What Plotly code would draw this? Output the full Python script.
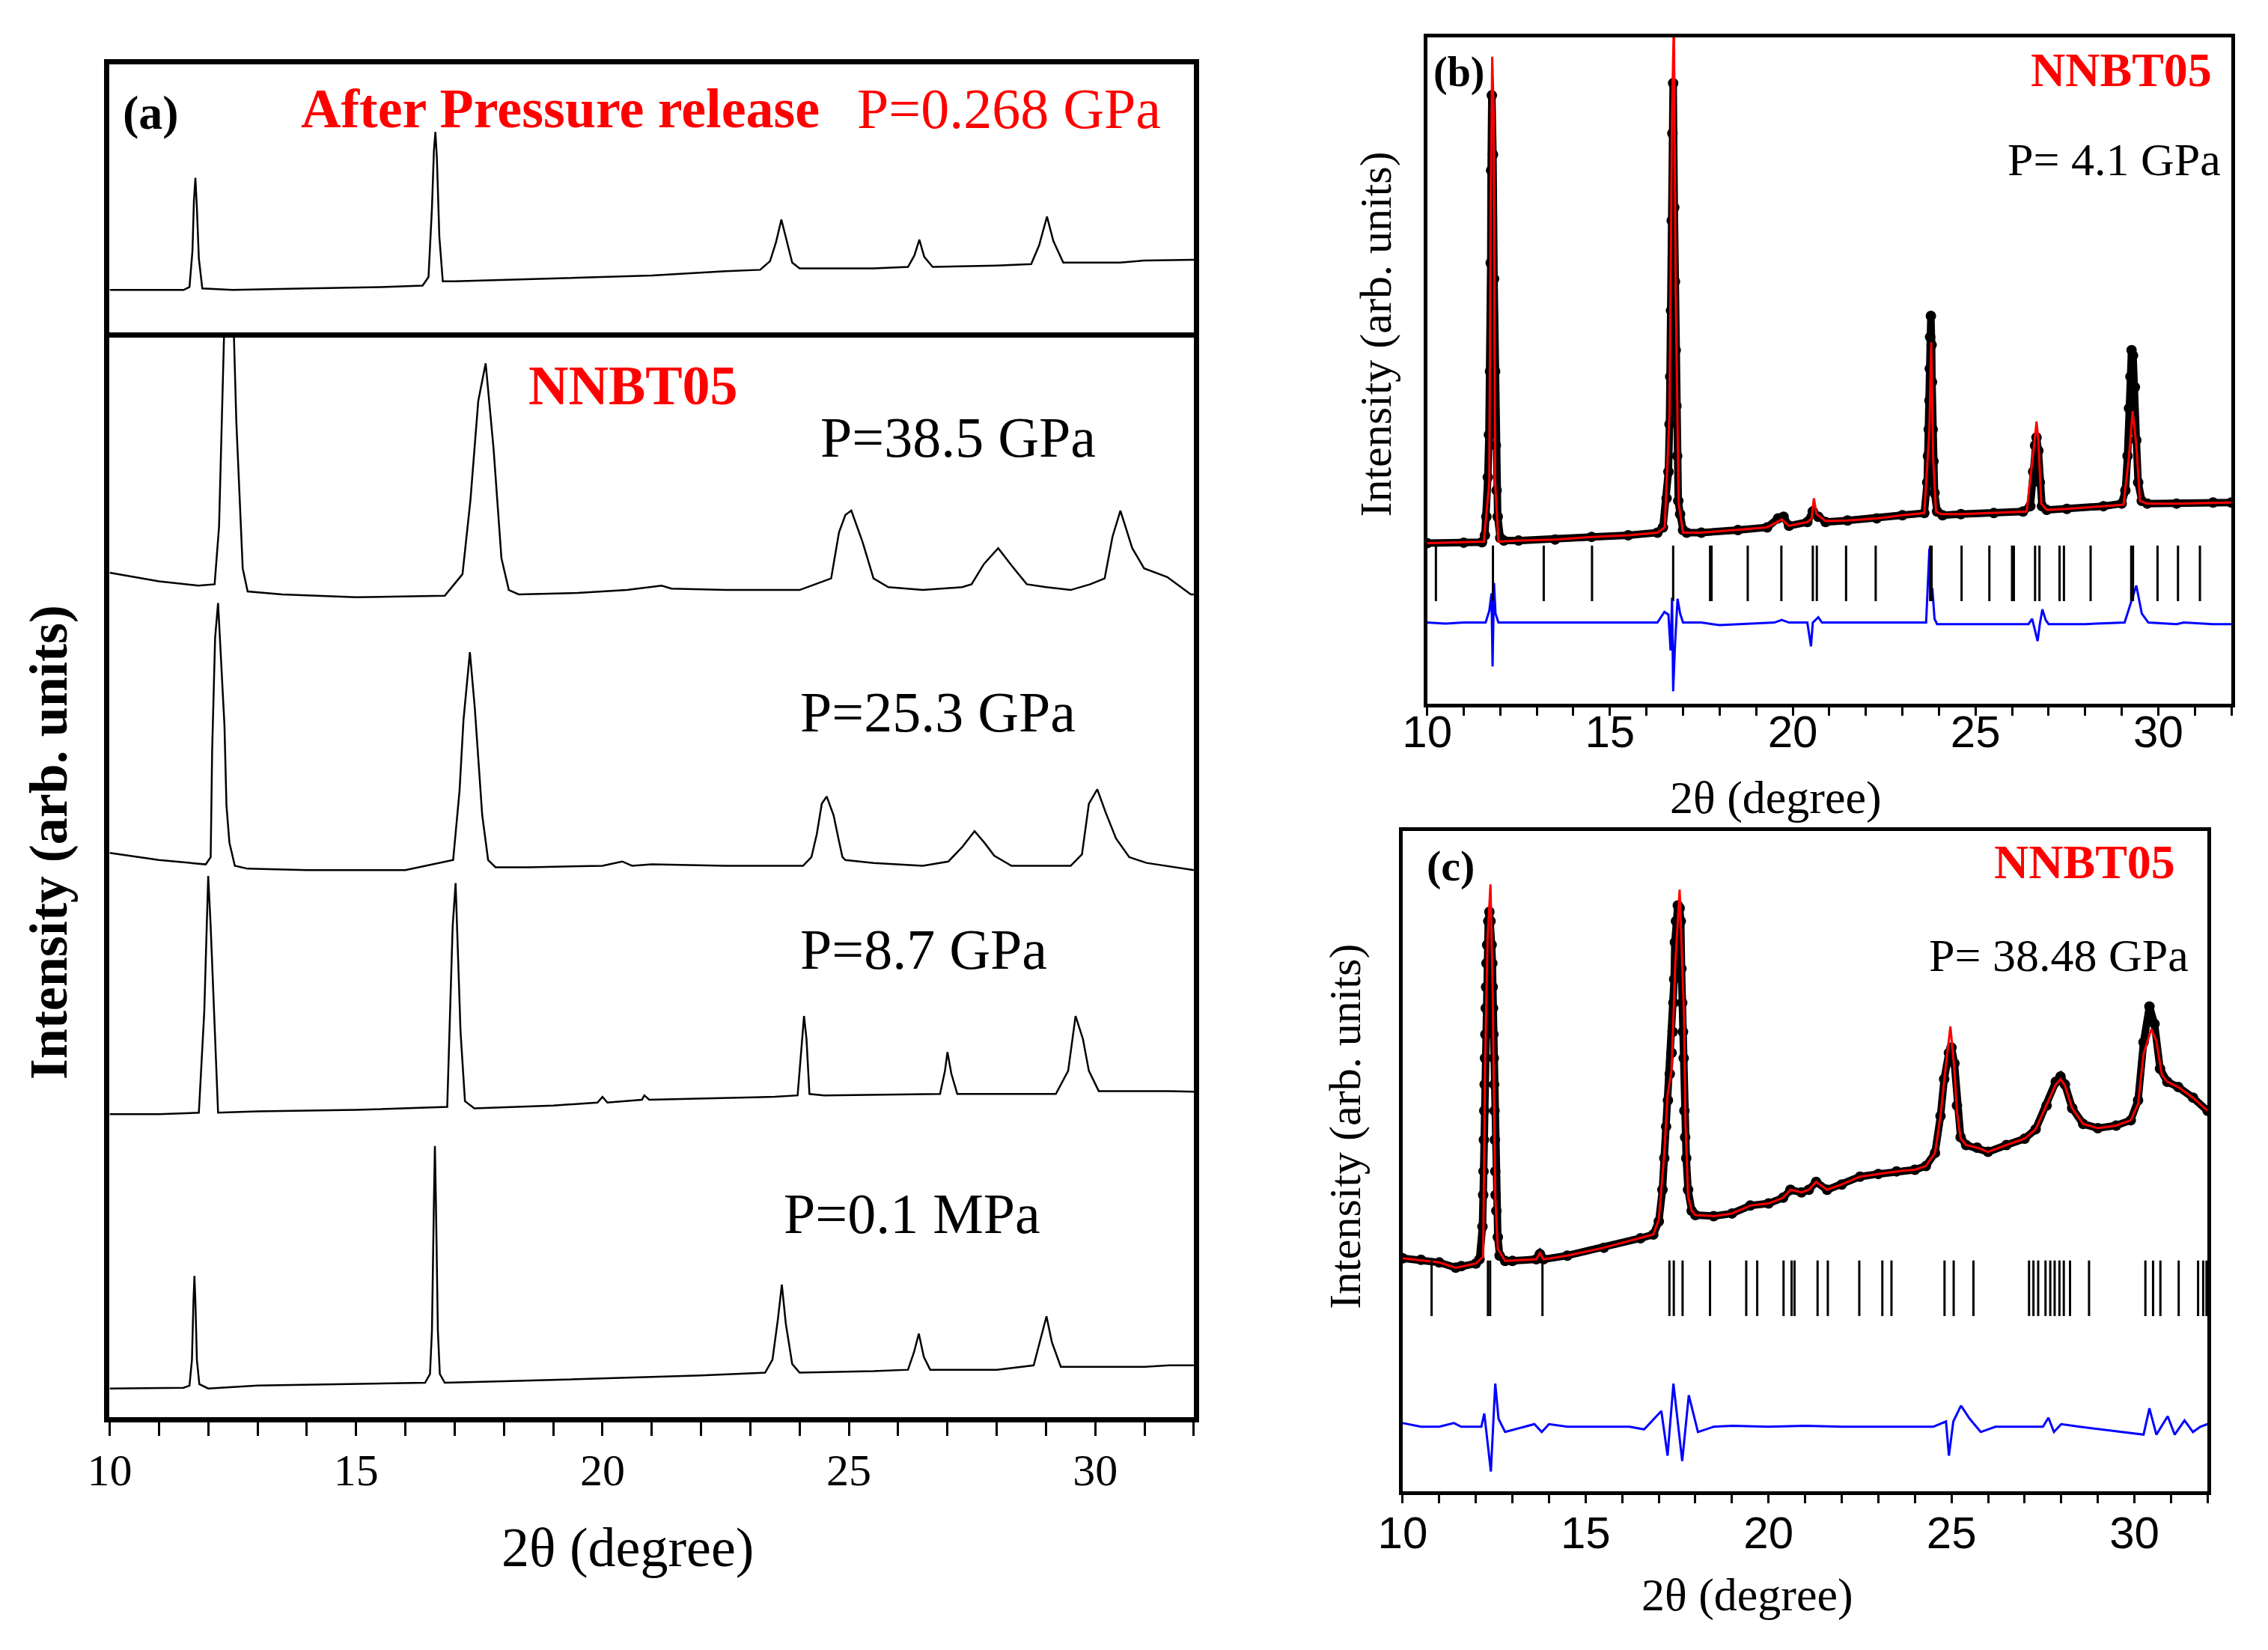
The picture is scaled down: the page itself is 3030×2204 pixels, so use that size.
import plotly.graph_objects as go

# ---------------- panel (a): stacked XRD patterns (2theta, intensity arb. units)
# upper box: after pressure release
release = [(10.0, 33), (11.5, 33), (11.62, 35), (11.68, 60), (11.71, 95), (11.74, 111), (11.77, 90),
           (11.81, 55), (11.88, 34), (12.5, 33), (14.0, 34), (15.5, 35), (16.35, 36), (16.47, 42),
           (16.54, 90), (16.58, 130), (16.61, 143), (16.64, 125), (16.69, 70), (16.76, 39), (17.0, 39),
           (19.0, 41), (21.0, 43), (22.5, 46), (23.2, 47), (23.4, 53), (23.52, 66), (23.63, 82),
           (23.72, 70), (23.85, 52), (24.0, 48), (25.5, 48), (26.2, 49), (26.33, 57), (26.43, 68),
           (26.53, 56), (26.7, 49), (28.0, 50), (28.7, 51), (28.86, 64), (29.02, 84), (29.15, 67),
           (29.35, 52), (30.5, 52), (31.0, 53.5), (32.0, 54)]

# lower box: stacked patterns
p385 = [(10.0, 585), (10.5, 582), (11.0, 579), (11.8, 576), (12.13, 577), (12.22, 617), (12.30, 726),
        (12.36, 800), (12.48, 800), (12.57, 690), (12.70, 588), (12.8, 572), (13.5, 570), (15.0, 568),
        (16.8, 569), (17.16, 584), (17.32, 635), (17.48, 704), (17.63, 730), (17.79, 671), (17.95, 595),
        (18.1, 573), (18.3, 570), (19.5, 571), (20.5, 573), (21.2, 576), (21.4, 574), (22.5, 573),
        (24.0, 573), (24.64, 581), (24.8, 613), (24.93, 625), (25.05, 628), (25.28, 606), (25.5, 581),
        (25.8, 575), (26.5, 573), (27.3, 575), (27.49, 577), (27.74, 591), (28.03, 602), (28.3, 590),
        (28.61, 577), (29.0, 575), (29.5, 573), (29.9, 577), (30.19, 581), (30.35, 610), (30.51, 628),
        (30.75, 602), (30.99, 588), (31.46, 582), (31.94, 570), (32.0, 570)]

p253 = [(10.0, 391), (11.0, 386), (11.95, 383), (12.05, 388), (12.08, 462), (12.14, 540), (12.2, 564),
        (12.27, 520), (12.33, 479), (12.37, 424), (12.43, 398), (12.54, 382), (12.8, 380), (14.0, 379),
        (16.0, 379), (16.97, 386), (17.1, 434), (17.18, 483), (17.31, 530), (17.41, 491), (17.49, 450),
        (17.56, 417), (17.68, 386), (17.83, 381), (18.5, 381), (20.0, 382), (20.4, 385), (20.6, 382),
        (21.0, 383), (22.5, 382), (24.07, 382), (24.24, 388), (24.35, 404), (24.45, 425), (24.55, 430),
        (24.69, 417), (24.80, 399), (24.87, 388), (24.93, 386), (25.5, 384), (26.5, 382), (27.02, 385),
        (27.3, 395), (27.55, 406), (27.75, 398), (27.95, 389), (28.3, 382), (29.5, 382), (29.73, 390),
        (29.87, 425), (30.04, 435), (30.21, 419), (30.42, 401), (30.69, 388), (31.04, 384), (31.87, 380),
        (32.0, 379)]

p87 = [(10.0, 210), (11.0, 210), (11.81, 211), (11.92, 281), (11.97, 340), (12.0, 375), (12.05, 340),
       (12.11, 285), (12.2, 211), (13.0, 212), (15.0, 213), (16.85, 215), (16.90, 276), (16.96, 340),
       (17.02, 370), (17.07, 320), (17.12, 267), (17.21, 219), (17.4, 214), (19.0, 216), (19.9, 218),
       (20.0, 222), (20.1, 218), (20.8, 220), (20.85, 223), (20.95, 220), (23.5, 222), (23.96, 223),
       (24.04, 260), (24.09, 278), (24.14, 262), (24.2, 224), (24.5, 223), (26.85, 224), (26.95, 240),
       (27.0, 253), (27.08, 238), (27.2, 224), (29.2, 224), (29.45, 240), (29.6, 278), (29.75, 262),
       (29.87, 240), (30.07, 226), (31.5, 226), (32.0, 225.5)]

p01 = [(10.0, 20), (11.5, 20.5), (11.62, 22), (11.67, 40), (11.70, 80), (11.72, 98), (11.74, 80),
       (11.77, 40), (11.82, 23), (12.0, 20), (13.0, 22), (15.0, 23), (16.4, 24), (16.5, 30), (16.54, 60),
       (16.58, 150), (16.6, 188), (16.62, 150), (16.66, 60), (16.7, 30), (16.8, 24), (18.0, 25),
       (20.0, 27), (22.0, 29), (23.3, 31), (23.45, 40), (23.56, 68), (23.64, 92), (23.72, 65),
       (23.85, 37), (24.0, 31), (25.5, 32), (26.2, 33), (26.32, 45), (26.42, 58), (26.52, 42),
       (26.65, 33), (28.0, 33), (28.75, 36), (28.9, 55), (29.01, 70), (29.12, 52), (29.3, 35),
       (31.0, 35), (31.5, 36), (32.0, 36)]

# ---------------- panel (b): Rietveld fit at 4.1 GPa
obs_b = [(10.0, 303), (11.0, 304), (11.5, 305), (11.58, 318), (11.62, 353), (11.66, 428), (11.69, 508),
         (11.72, 628), (11.74, 833), (11.75, 1008), (11.77, 1150), (11.80, 1038), (11.83, 803),
         (11.86, 628), (11.88, 488), (11.90, 403), (11.93, 353), (12.0, 313), (12.1, 308), (12.5, 308),
         (13.5, 310), (14.5, 315), (15.5, 318), (16.3, 323), (16.45, 333), (16.55, 388), (16.6, 438),
         (16.63, 528), (16.65, 618), (16.67, 743), (16.69, 913), (16.71, 1078), (16.73, 1173),
         (16.76, 938), (16.78, 798), (16.80, 668), (16.82, 563), (16.84, 468), (16.87, 383),
         (16.92, 358), (17.0, 328), (17.1, 323), (17.5, 323), (18.5, 328), (19.3, 333), (19.6, 350),
         (19.75, 353), (19.9, 336), (20.4, 343), (20.55, 363), (20.7, 353), (20.9, 343), (21.5, 346),
         (22.3, 350), (23.0, 356), (23.6, 360), (23.68, 418), (23.70, 468), (23.72, 518), (23.74, 573),
         (23.75, 633), (23.76, 693), (23.78, 733), (23.80, 678), (23.81, 608), (23.83, 518),
         (23.85, 458), (23.88, 398), (23.95, 363), (24.1, 356), (24.6, 358), (25.5, 360), (26.3, 363),
         (26.5, 373), (26.58, 438), (26.63, 488), (26.67, 503), (26.72, 478), (26.76, 418), (26.82, 373),
         (26.95, 366), (27.5, 368), (28.5, 373), (29.0, 378), (29.1, 403), (29.16, 468), (29.2, 558),
         (29.24, 618), (29.27, 668), (29.31, 658), (29.36, 598), (29.40, 498), (29.45, 418),
         (29.55, 383), (29.7, 378), (30.5, 378), (31.5, 380), (32.0, 380)]

calc_b = [(10.0, 303), (11.55, 306), (11.70, 418), (11.74, 948), (11.78, 1223), (11.82, 1118),
          (11.86, 418), (11.95, 306), (12.5, 308), (13.5, 310), (14.5, 315), (15.5, 318), (16.3, 323),
          (16.5, 333), (16.63, 548), (16.70, 1118), (16.75, 1290), (16.80, 778), (16.88, 378),
          (17.0, 323), (17.5, 323), (18.5, 328), (19.3, 333), (19.7, 348), (19.9, 336), (20.4, 343),
          (20.52, 350), (20.58, 388), (20.65, 358), (20.9, 345), (21.5, 346), (22.3, 350), (23.0, 356),
          (23.6, 360), (23.74, 518), (23.79, 683), (23.84, 468), (23.92, 363), (24.05, 358),
          (24.6, 358), (25.5, 360), (26.4, 363), (26.62, 498), (26.67, 533), (26.72, 498), (26.8, 378),
          (26.95, 366), (27.5, 368), (28.5, 373), (29.05, 376), (29.2, 468), (29.3, 553), (29.4, 488),
          (29.5, 383), (29.7, 378), (30.5, 378), (32.0, 380)]

diff_b = [(10.0, 153), (10.5, 151), (11.0, 153), (11.6, 153), (11.7, 175), (11.76, 208), (11.79, 70),
          (11.83, 228), (11.87, 170), (11.95, 153), (12.5, 153), (14.0, 153), (16.3, 153), (16.49, 173),
          (16.6, 168), (16.66, 100), (16.70, 200), (16.73, 23), (16.78, 110), (16.85, 198),
          (16.92, 170), (17.0, 153), (17.5, 153), (18.0, 148), (19.5, 153), (19.7, 158), (19.9, 153),
          (20.4, 153), (20.5, 108), (20.55, 153), (20.7, 163), (20.8, 153), (22.0, 153), (23.65, 153),
          (23.74, 293), (23.78, 205), (23.82, 218), (23.88, 160), (23.95, 150), (25.5, 150),
          (26.45, 150), (26.55, 160), (26.7, 118), (26.76, 150), (26.83, 178), (26.92, 158),
          (27.0, 150), (28.0, 150), (29.08, 153), (29.24, 188), (29.4, 223), (29.55, 170),
          (29.73, 153), (30.5, 150), (30.7, 153), (31.5, 150), (32.0, 150)]

bragg_b = [10.24, 11.80, 13.19, 14.51, 16.73, 17.74, 17.78, 18.77, 19.69, 20.55, 20.66, 21.46, 22.27,
           23.76, 23.80, 24.62, 25.38, 26.0, 26.05, 26.63, 26.75, 27.30, 27.42, 28.15, 29.26, 29.31,
           29.98, 30.54, 31.14]

# ---------------- panel (c): Rietveld fit at 38.48 GPa
obs_c = [(10.0, 442), (10.5, 439), (11.0, 434), (11.45, 424), (11.6, 427), (12.0, 432), (12.1, 440),
         (12.18, 502), (12.2, 562), (12.21, 607), (12.22, 667), (12.23, 722), (12.24, 772),
         (12.25, 822), (12.26, 867), (12.27, 917), (12.28, 957), (12.29, 1002), (12.31, 1037),
         (12.34, 1082), (12.37, 1100), (12.40, 1082), (12.43, 1037), (12.45, 1002), (12.46, 957),
         (12.47, 917), (12.48, 867), (12.49, 822), (12.5, 772), (12.51, 722), (12.52, 667),
         (12.53, 607), (12.54, 562), (12.56, 532), (12.6, 482), (12.65, 447), (12.8, 437), (13.0, 437),
         (13.65, 440), (13.75, 450), (13.85, 440), (14.5, 447), (15.5, 462), (16.5, 480), (16.85, 487),
         (17.0, 512), (17.1, 572), (17.15, 632), (17.2, 692), (17.25, 742), (17.3, 792), (17.35, 832),
         (17.38, 872), (17.4, 927), (17.42, 972), (17.44, 1042), (17.47, 1082), (17.52, 1112),
         (17.57, 1107), (17.6, 1082), (17.62, 992), (17.64, 927), (17.66, 872), (17.68, 822),
         (17.7, 722), (17.72, 672), (17.75, 632), (17.8, 572), (17.9, 532), (18.0, 524), (18.5, 522),
         (19.0, 527), (19.5, 542), (20.0, 546), (20.4, 557), (20.6, 572), (20.9, 567), (21.1, 572),
         (21.3, 587), (21.6, 572), (22.0, 582), (22.5, 597), (23.0, 602), (23.5, 607), (24.0, 610),
         (24.3, 617), (24.55, 642), (24.7, 712), (24.8, 782), (24.93, 832), (25.0, 842), (25.08, 812),
         (25.15, 732), (25.25, 672), (25.4, 657), (25.7, 652), (26.0, 644), (26.5, 657), (27.0, 669),
         (27.3, 687), (27.6, 732), (27.85, 777), (27.98, 787), (28.1, 772), (28.3, 727), (28.6, 697),
         (29.0, 689), (29.5, 694), (29.9, 704), (30.1, 742), (30.25, 852), (30.41, 920), (30.55, 887),
         (30.7, 802), (30.9, 777), (31.2, 767), (31.6, 747), (32.0, 722)]

calc_c = [(10.0, 442), (11.0, 434), (11.45, 424), (12.0, 432), (12.2, 445), (12.25, 800), (12.32, 1050),
          (12.40, 1152), (12.46, 950), (12.53, 560), (12.6, 460), (12.8, 437), (13.65, 440),
          (13.75, 452), (13.85, 440), (14.5, 447), (15.5, 462), (16.5, 480), (16.85, 487), (17.0, 515),
          (17.15, 640), (17.24, 752), (17.35, 800), (17.45, 1000), (17.57, 1142), (17.69, 900),
          (17.73, 700), (17.8, 560), (17.9, 532), (18.0, 524), (18.5, 522), (19.0, 527), (19.5, 542),
          (20.0, 546), (20.4, 557), (20.6, 572), (20.9, 567), (21.1, 572), (21.3, 587), (21.6, 572),
          (22.0, 582), (22.5, 597), (23.0, 602), (23.5, 607), (24.0, 610), (24.3, 617), (24.55, 642),
          (24.7, 712), (24.85, 810), (24.97, 882), (25.08, 800), (25.15, 720), (25.25, 670),
          (25.4, 657), (25.7, 652), (26.0, 644), (26.5, 657), (27.0, 669), (27.3, 687), (27.6, 732),
          (27.85, 772), (27.98, 782), (28.1, 770), (28.3, 727), (28.6, 697), (29.0, 689), (29.5, 694),
          (29.9, 704), (30.1, 735), (30.25, 830), (30.46, 877), (30.6, 855), (30.75, 790), (30.9, 777),
          (31.2, 767), (31.6, 747), (32.0, 722)]

diff_c = [(10.0, 129), (10.5, 122), (11.0, 122), (11.4, 129), (11.6, 122), (12.15, 122), (12.23, 147),
          (12.41, 37), (12.53, 204), (12.62, 137), (12.8, 112), (13.3, 122), (13.6, 127), (13.8, 112),
          (14.0, 127), (14.5, 122), (16.2, 122), (16.6, 117), (17.07, 152), (17.24, 67), (17.40, 204),
          (17.64, 57), (17.82, 182), (18.07, 112), (18.5, 122), (19.0, 124), (20.0, 122), (21.0, 124),
          (22.0, 122), (24.5, 122), (24.85, 132), (24.93, 67), (25.05, 132), (25.26, 162), (25.5, 137),
          (25.8, 112), (26.2, 122), (27.5, 122), (27.65, 139), (27.8, 112), (28.0, 127), (28.5, 122),
          (30.25, 107), (30.41, 157), (30.6, 107), (30.91, 142), (31.1, 107), (31.37, 134),
          (31.6, 112), (31.8, 122), (32.0, 127)]

bragg_c = [10.79, 12.33, 12.39, 13.82, 17.29, 17.41, 17.65, 18.40, 19.39, 19.69, 20.41, 20.63, 20.71,
           21.34, 21.62, 22.48, 23.11, 23.36, 24.81, 25.06, 25.60, 27.12, 27.24, 27.37, 27.57, 27.70,
           27.82, 27.95, 28.07, 28.24, 28.76, 30.30, 30.51, 30.71, 31.21, 31.74, 31.88, 31.97]

tick_vals = [10, 15, 20, 25, 30]
tick_text = ["10", "15", "20", "25", "30"]

SERIF = "Liberation Serif"
SANS = "Liberation Sans"
RED = "#ff0000"


def xy(pairs):
    return [p[0] for p in pairs], [p[1] for p in pairs]


fig = go.Figure()


def add_curve(pairs, xa, ya, color="black", width=2.5, mode="lines", marker=None):
    x, y = xy(pairs)
    fig.add_trace(go.Scatter(x=x, y=y, mode=mode, xaxis=xa, yaxis=ya,
                             line=dict(color=color, width=width), marker=marker,
                             showlegend=False, hoverinfo="skip"))


# panel (a)
add_curve(release, "x2", "y2")
for pat in [p385, p253, p87, p01]:
    add_curve(pat, "x", "y")

# panel (b)
dot = dict(color="black", size=14, symbol="circle")
add_curve(obs_b, "x3", "y3", width=10, mode="lines+markers", marker=dot)
add_curve(calc_b, "x3", "y3", color=RED, width=3)
add_curve(diff_b, "x3", "y3", color="#0000ff", width=3)
fig.add_trace(go.Scatter(x=bragg_b, y=[246] * len(bragg_b), mode="markers", xaxis="x3", yaxis="y3",
                         marker=dict(symbol="line-ns", size=53, line=dict(width=3, color="black")),
                         showlegend=False, hoverinfo="skip"))

# panel (c)
add_curve(obs_c, "x4", "y4", width=10, mode="lines+markers", marker=dot)
add_curve(calc_c, "x4", "y4", color=RED, width=3)
add_curve(diff_c, "x4", "y4", color="#0000ff", width=3)
fig.add_trace(go.Scatter(x=bragg_c, y=[385] * len(bragg_c), mode="markers", xaxis="x4", yaxis="y4",
                         marker=dict(symbol="line-ns", size=53, line=dict(width=3, color="black")),
                         showlegend=False, hoverinfo="skip"))


def xaxis(domain, anchor, lw, font=None, ticklen=18, standoff=0):
    return dict(domain=domain, anchor=anchor, range=[10, 32], showgrid=False, zeroline=False,
                showline=True, linecolor="black", linewidth=lw, mirror=True,
                ticks="outside", ticklen=ticklen, tickwidth=3, tickcolor="black",
                tickvals=tick_vals, ticktext=tick_text, tickfont=font,
                ticklabelstandoff=standoff,
                minor=dict(dtick=1, tick0=10, ticks="outside", ticklen=ticklen,
                           tickwidth=3, tickcolor="black"))


def yaxis(domain, anchor, lw, rng):
    return dict(domain=domain, anchor=anchor, range=rng, showgrid=False, zeroline=False,
                showline=True, linecolor="black", linewidth=lw, mirror=True,
                ticks="", showticklabels=False)


fig.update_layout(
    width=3030, height=2204,
    margin=dict(l=0, r=0, t=0, b=0),
    paper_bgcolor="white", plot_bgcolor="white",
    showlegend=False,
    xaxis=xaxis([0.0352, 0.5185], "y", 7, font=dict(family=SERIF, size=60, color="black"),
                ticklen=18, standoff=-6),
    yaxis=yaxis([0.1446, 0.7992], "x", 7, [0, 748]),
    # top box: only its top edge, the divider comes from the lower box
    xaxis2=dict(domain=[0.0352, 0.5185], anchor="y2", range=[10, 32], side="top", showgrid=False,
                zeroline=False, showline=True, linecolor="black", linewidth=7, mirror=False,
                ticks="", showticklabels=False),
    yaxis2=yaxis([0.7992, 0.9646], "x2", 7, [0, 190]),
    xaxis3=xaxis([0.6225, 0.9810], "y3", 5, font=dict(family=SANS, size=60, color="black"),
                 ticklen=11, standoff=-30),
    yaxis3=yaxis([0.5773, 0.9811], "x3", 5, [0, 1260]),
    xaxis4=xaxis([0.6116, 0.9704], "y4", 5, font=dict(family=SANS, size=60, color="black"),
                 ticklen=11, standoff=-12),
    yaxis4=yaxis([0.1000, 0.5002], "x4", 5, [0, 1254]),
)


def note(text, x, y, size, color="black", bold=False, xanchor="center", angle=0, family=SERIF):
    t = "<b>%s</b>" % text if bold else text
    fig.add_annotation(text=t, x=x, y=y, xref="paper", yref="paper", xanchor=xanchor,
                       yanchor="middle", showarrow=False, textangle=angle,
                       font=dict(family=family, size=size, color=color))


# panel (a) texts
note("(a)", 0.0535, 0.9355, 64, bold=True)
note("After Pressure release", 0.1199, 0.938, 74, color=RED, bold=True, xanchor="left")
note("P=0.268 GPa", 0.3677, 0.938, 76, color=RED, xanchor="left")
note("NNBT05", 0.2212, 0.770, 74, color=RED, bold=True, xanchor="left")
note("P=38.5 GPa", 0.3515, 0.7385, 76, xanchor="left")
note("P=25.3 GPa", 0.3425, 0.572, 76, xanchor="left")
note("P=8.7 GPa", 0.3425, 0.4281, 76, xanchor="left")
note("P=0.1 MPa", 0.335, 0.268, 76, xanchor="left")
note("Intensity (arb. units)", 0.008, 0.4931, 72, bold=True, angle=-90)
note("2\u03b8 (degree)", 0.266, 0.066, 74)

# panel (b) texts
note("(b)", 0.6365, 0.960, 56, bold=True)
note("NNBT05", 0.973, 0.961, 64, color=RED, bold=True, xanchor="right")
note("P= 4.1 GPa", 0.977, 0.907, 62, xanchor="right")
note("Intensity (arb. units)", 0.5996, 0.801, 60, angle=-90)
note("2\u03b8 (degree)", 0.778, 0.5203, 62)

# panel (c) texts
note("(c)", 0.633, 0.4788, 58, bold=True)
note("NNBT05", 0.9565, 0.481, 64, color=RED, bold=True, xanchor="right")
note("P= 38.48 GPa", 0.9625, 0.4247, 62, xanchor="right")
note("Intensity (arb. units)", 0.5857, 0.321, 60, angle=-90)
note("2\u03b8 (degree)", 0.7653, 0.037, 62)

fig.write_html("out.html")
